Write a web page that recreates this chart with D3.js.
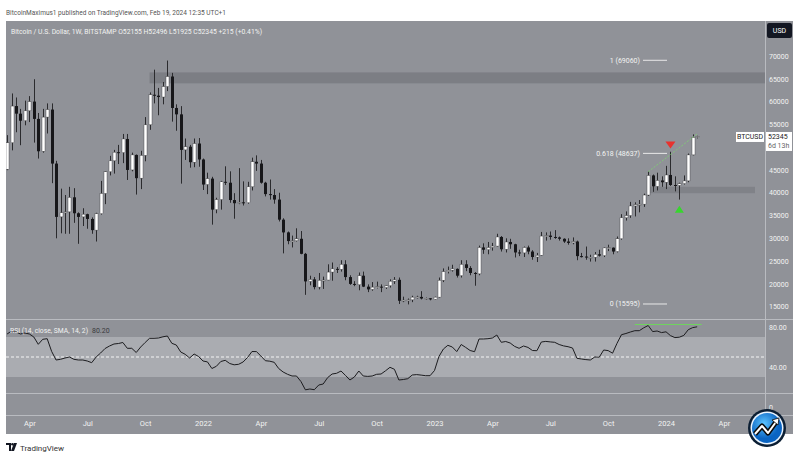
<!DOCTYPE html>
<html>
<head>
<meta charset="utf-8">
<script src="https://cdn.jsdelivr.net/npm/d3@7/dist/d3.min.js"></script>
<style>
  body { margin: 0; background: #fff; }
  svg text { font-family: "Liberation Sans Narrow", "Roboto", sans-serif; }
</style>
</head>
<body>
<svg id="chart" width="800" height="460"></svg>
<script>
// weekly candles, BTC/USD Bitstamp, first bar = week of 2021-03-01
var firstWeek = "2021-03-01";
var opens = [45160,50970,59020,57350,55800,57970,60000,56200,49100,56600,58250,46400,34700,35600,35800,39000,35500,34700,35300,34250,31800,35400,39850,44600,47000,48900,48800,51800,45000,48300,43200,48200,54900,61500,61300,61000,63300,65500,58600,57200,49400,50100,46700,50800,
  47300,41800,43100,36300,38500,42400,42200,38400,37700,37900,37800,41300,46800,46400,42200,39700,39500,38500,34100,31300,29400,29450,29900,26600,20550,21000,19300,20800,20850,22600,23300,23200,24300,21500,20000,19800,21800,19400,18800,19300,19400,19200,19600,20600,20900,16300,16450,16500,17100,17150,16800,16850,
  16600,17100,20800,22700,23000,23300,21800,24300,23500,22400,22200,28000,27500,28000,28300,30300,27600,29200,28700,26900,26800,28000,27100,25900,26300,30500,30600,30300,30200,29900,29300,29000,29300,26100,26000,25800,25850,26500,26200,27900,27950,27100,29900,34500,35000,37100,37400,37500,39500,43800,41400,42700,
  42300,43900,41700,41600,42000,42600,48300,52155];
var highs = [52640,61780,60900,58400,60200,61200,64900,57500,58400,59600,59600,47000,40900,39500,41300,41000,35700,36600,35400,34600,35600,42600,44700,48100,49400,50500,52900,52900,48800,48400,49200,56600,62000,67000,63000,64300,69000,66300,59400,59000,51900,50500,51900,52000,
  47500,44400,43500,38900,42600,45800,44700,39900,45400,42500,42400,47700,48200,47200,42400,42900,40800,40000,34400,31500,30600,32200,31600,26800,21800,21500,22400,21600,24300,24700,23700,25200,25200,21900,20600,22500,22700,19900,20400,20500,19900,19700,21000,21500,21400,17200,16800,17400,17400,18400,17000,16900,
  17200,21400,23400,23800,24200,23400,25200,25200,23900,22600,28400,28900,29200,29000,31000,30500,30000,29900,28800,27500,28200,28400,27400,26800,31400,31300,31500,31800,30400,30000,30000,30200,29500,26800,28200,26400,27000,27500,28000,28600,28000,30400,35300,35900,38000,37900,38400,39800,44700,44000,44400,43600,
  45900,49000,43600,42200,43800,48600,52800,52496];
var lows = [44950,49300,53270,50430,54800,55500,51000,47500,48800,53000,42100,30000,31100,31000,31000,33400,28800,32700,32100,31000,29300,35200,37500,43800,44200,46300,46500,42800,44700,39600,40800,46900,53800,59600,57000,59400,62300,55600,53600,42000,47200,45500,45600,45700,
  40600,39700,33000,35500,36300,41700,37800,34300,37500,37200,37600,40500,44800,42000,39200,38500,37600,33700,26700,28700,28000,29300,26500,17600,19700,18800,18800,18900,20800,20700,22400,22700,20800,19800,19500,18600,19300,18200,18500,19000,18200,18900,19200,20000,15600,16000,15500,16000,16800,16600,16500,16400,
  16500,17000,20400,22300,22700,21400,21400,22800,21900,19600,21900,26600,26500,27300,28200,27100,26900,27700,25800,26100,25900,26500,25300,24800,26200,29500,29700,29900,29500,29000,28600,28700,25200,25800,25300,24900,24900,26000,25900,27200,26500,26900,29700,33900,34500,34800,35700,36900,39300,40200,40500,41300,
  40800,41500,40300,38500,41800,42300,48200,51925];
var closes = [50970,59020,57350,55800,57970,60000,56200,49100,56600,58250,46400,34700,35600,35800,39000,35500,34700,35300,34250,31800,35400,39850,44600,47000,48900,48800,51800,45000,48300,43200,48200,54900,61500,61300,61000,63300,65500,58600,57200,49400,50100,46700,50800,47300,
  41800,43100,36300,38500,42400,42200,38400,37700,37900,37800,41300,46800,46400,42200,39700,39500,38500,34100,31300,29400,29450,29900,26600,20550,21000,19300,20800,20850,22600,23300,23200,24300,21500,20000,19800,21800,19400,18800,19300,19400,19200,19600,20600,20900,16300,16450,16500,17100,17150,16800,16850,16600,
  17100,20800,22700,23000,23300,21800,24300,23500,22400,22200,28000,27500,28000,28300,30300,27600,29200,28700,26900,26800,28000,27100,25900,26300,30500,30600,30300,30200,29900,29300,29000,29300,26100,26000,25800,25850,26500,26200,27900,27950,27100,29900,34500,35000,37100,37400,37500,39500,43800,41400,42700,42300,
  43900,41700,41600,42000,42600,48300,52150,52345];
// RSI(14) per week
var rsi = [73,76,75,73,74,73,70,62.7,67.7,68.3,55.6,47,47.7,49,50,47.7,47,47,46,44.3,50,54,58.5,61,63,63.5,64.5,58.7,58.7,54.5,60,64.5,68.7,68.7,69,70.2,71,63.7,62,55,52.7,49,53,50.5,
  46,45.1,38.5,40.7,45.5,46.7,43.5,42.2,42.7,45,49.5,55.5,55.4,51,46.3,45.8,44.7,38.5,35,32.7,31,31,25.5,17.2,18,17.3,22,23,29.4,33,33.7,36,31.6,27,30,36,31,30.6,31,32.7,33,36.2,39.7,37.7,27,27.5,28.3,32,32.4,31.9,31.3,31.3,
  36.5,50.5,58,61.7,60,55.4,62.5,59.6,56.5,55.3,68,68,68.3,69,72,64.7,65.5,64,60.6,58.7,61,59.6,56.5,56.3,65,65.6,65.1,64.7,62.5,61.1,60.3,59,48.7,48,47.4,47,50,49.8,57,56.4,53.8,63.7,72.3,73.5,75,76.3,76.3,79.2,81.5,75.4,76,74.4,
  75.2,71.4,69.4,69.8,71.6,77.3,79.4,80.2];

var timeTicks = ["2021-04-05","2021-07-05","2021-10-04","2022-01-03","2022-04-04","2022-07-04","2022-10-03","2023-01-02","2023-04-03","2023-07-03","2023-10-02","2024-01-01","2024-04-01"];
var timeLabels = ["Apr","Jul","Oct","2022","Apr","Jul","Oct","2023","Apr","Jul","Oct","2024","Apr"];
var priceTicks = [15000,20000,25000,30000,35000,40000,45000,50000,55000,60000,65000,70000];
var rsiTicks = [0,40,80];
var fibLabels = ["1 (69060)","0.618 (48637)","0 (15595)"];
var fibValues = [69060,48637,15595];
var zoneStart = ["2021-10-11","2023-12-04"];
var zoneLow = [64000,39900];
var zoneHigh = [66400,41300];

var parse = d3.utcParse("%Y-%m-%d");
var weeks = d3.utcMonday.range(parse(firstWeek), d3.utcDay.offset(parse(firstWeek), 7 * closes.length));
var bars = weeks.map(function(d, i) {
    return {date: d, o: opens[i], h: highs[i], l: lows[i], c: closes[i], r: rsi[i]};
});

// layout
var left = 6, right = 765, axisRight = 793,
    mainTop = 21, mainBottom = 318,
    rsiTop = 319, rsiBottom = 393, timeTop = 415, bottom = 434;

var bg = "#909298", band = "#aaacb1", sep = "#b9bbc0", textCol = "#f2f2f2";

var x = d3.scaleUtc()
    .domain([parse("2022-01-03"), parse("2024-01-01")])
    .range([203, 666]);
var y = d3.scaleLinear().domain([15000, 70000]).range([306.7, 56]);
var ry = d3.scaleLinear().domain([0, 80]).range([407, 327]);

var svg = d3.select("#chart");

svg.append("text").attr("x", 6).attr("y", 15)
    .attr("font-size", 7.5).attr("fill", "#555")
    .attr("textLength", 220).attr("lengthAdjust", "spacingAndGlyphs")
    .text("BitcoinMaximus1 published on TradingView.com, Feb 19, 2024 12:35 UTC+1");

// background panes
svg.append("rect").attr("x", left).attr("y", mainTop)
    .attr("width", axisRight - left).attr("height", bottom - mainTop).attr("fill", bg);

svg.append("rect").attr("x", left).attr("y", ry(70))
    .attr("width", right - left).attr("height", ry(30) - ry(70)).attr("fill", band);
svg.append("line").attr("x1", left).attr("x2", right)
    .attr("y1", ry(50)).attr("y2", ry(50))
    .attr("stroke", "#f4f4f4").attr("stroke-dasharray", "3,2");

[rsiTop, rsiBottom, timeTop].forEach(function(v) {
    svg.append("line").attr("x1", left).attr("x2", axisRight)
        .attr("y1", v + 0.5).attr("y2", v + 0.5).attr("stroke", sep);
});
svg.append("line").attr("x1", right + 0.5).attr("x2", right + 0.5)
    .attr("y1", mainTop).attr("y2", bottom).attr("stroke", sep);

// clip for main pane
svg.append("clipPath").attr("id", "mainClip").append("rect")
    .attr("x", left).attr("y", mainTop).attr("width", right - left).attr("height", mainBottom - mainTop);
svg.append("clipPath").attr("id", "rsiClip").append("rect")
    .attr("x", left).attr("y", rsiTop).attr("width", right - left).attr("height", rsiBottom - rsiTop);

var main = svg.append("g").attr("clip-path", "url(#mainClip)");

// support / resistance zones
zoneStart.forEach(function(d, i) {
    main.append("rect")
        .attr("x", x(parse(d)))
        .attr("y", y(zoneHigh[i]))
        .attr("width", (i == 0 ? right : 755) - x(parse(d)))
        .attr("height", y(zoneLow[i]) - y(zoneHigh[i]))
        .attr("fill", i == 0 ? "#7c7e84" : "#808288");
});

// candles
var candle = main.selectAll(".candle").data(bars).enter().append("g").attr("class", "candle");
candle.append("line")
    .attr("x1", function(d) { return Math.round(x(d.date)) + 0.5; })
    .attr("x2", function(d) { return Math.round(x(d.date)) + 0.5; })
    .attr("y1", function(d) { return y(d.h); })
    .attr("y2", function(d) { return y(d.l); })
    .attr("stroke", "#2b2b2e");
candle.append("rect")
    .attr("x", function(d) { return Math.round(x(d.date)) - 1; })
    .attr("y", function(d) { return y(Math.max(d.o, d.c)); })
    .attr("width", 3)
    .attr("height", function(d) { return Math.max(1, Math.abs(y(d.o) - y(d.c))); })
    .attr("fill", function(d) { return d.c >= d.o ? "#ffffff" : "#17171a"; })
    .attr("stroke", function(d) { return d.c >= d.o ? "#3a3a3d" : "none"; })
    .attr("stroke-width", 0.4);

// fib labels
fibValues.forEach(function(v, i) {
    main.append("text").attr("x", 640).attr("y", y(v) + 2.5)
        .attr("text-anchor", "end").attr("font-size", 7).attr("fill", textCol)
        .text(fibLabels[i]);
    main.append("line").attr("x1", 643).attr("x2", 667)
        .attr("y1", y(v)).attr("y2", y(v)).attr("stroke", "#e8e8e8");
});

// divergence line + markers
main.append("line")
    .attr("x1", x(parse("2023-12-04"))).attr("y1", y(44600))
    .attr("x2", x(parse("2024-02-19"))).attr("y2", y(52900))
    .attr("stroke", "#7ed66f").attr("stroke-dasharray", "2,1.5").attr("stroke-width", 0.8);

var rx = x(parse("2024-01-08")), rY = y(50500);
main.append("path").attr("d", "M" + (rx - 5) + "," + (rY - 3.5) + "L" + (rx + 5) + "," + (rY - 3.5) + "L" + rx + "," + (rY + 3.5) + "Z")
    .attr("fill", "#e8322e");
var gx = x(parse("2024-01-22")), gY = y(36400);
main.append("path").attr("d", "M" + (gx - 4.5) + "," + (gY + 3.5) + "L" + (gx + 4.5) + "," + (gY + 3.5) + "L" + gx + "," + (gY - 3.5) + "Z")
    .attr("fill", "#37d62e");

// legend
svg.append("text").attr("x", 11).attr("y", 34)
    .attr("font-size", 7.5).attr("fill", textCol)
    .attr("textLength", 251).attr("lengthAdjust", "spacingAndGlyphs")
    .text("Bitcoin / U.S. Dollar, 1W, BITSTAMP  O52155  H52496  L51925  C52345  +215 (+0.41%)");

// price axis
var yAxis = svg.append("g").attr("transform", "translate(" + (right + 2) + ",0)")
    .call(d3.axisRight(y).tickValues(priceTicks).tickSize(0).tickPadding(2).tickFormat(d3.format("d")));
yAxis.select(".domain").remove();
yAxis.selectAll("text").attr("font-size", 7).attr("fill", textCol)
    .style("font-family", '"Liberation Sans Narrow", Roboto, sans-serif');

// USD button
svg.append("rect").attr("x", 767).attr("y", 23).attr("width", 25).attr("height", 15).attr("rx", 2).attr("fill", "#131722");
svg.append("text").attr("x", 779.5).attr("y", 33).attr("text-anchor", "middle")
    .attr("font-size", 7).attr("fill", "#fff").text("USD");

// last price label
var last = bars[bars.length - 1], ly = y(last.c);
svg.append("rect").attr("x", 736).attr("y", ly - 4.5).attr("width", 28).attr("height", 10).attr("fill", "#fff");
svg.append("text").attr("x", 750).attr("y", ly + 3).attr("text-anchor", "middle")
    .attr("font-size", 7).attr("fill", "#222").text("BTCUSD");
svg.append("rect").attr("x", 766).attr("y", ly - 4.5).attr("width", 26).attr("height", 19).attr("fill", "#fff");
svg.append("text").attr("x", 768).attr("y", ly + 3).attr("font-size", 7).attr("fill", "#222").text(d3.format("d")(last.c));
svg.append("text").attr("x", 768).attr("y", ly + 12).attr("font-size", 7).attr("fill", "#666").text("6d 13h");

// RSI pane
var rsiG = svg.append("g").attr("clip-path", "url(#rsiClip)");
rsiG.append("line")
    .attr("x1", x(parse("2023-11-13"))).attr("x2", x(parse("2024-02-26")))
    .attr("y1", ry(82.5)).attr("y2", ry(82.5))
    .attr("stroke", "#6fd35e").attr("stroke-width", 1);
rsiG.append("path").datum(bars)
    .attr("fill", "none").attr("stroke", "#1c1c1f").attr("stroke-width", 1)
    .attr("d", d3.line().x(function(d) { return x(d.date); }).y(function(d) { return ry(d.r); }));

svg.append("text").attr("x", 10).attr("y", 333)
    .attr("font-size", 7).attr("fill", textCol)
    .attr("textLength", 78).attr("lengthAdjust", "spacingAndGlyphs")
    .text("RSI (14, close, SMA, 14, 2)");
svg.append("text").attr("x", 92).attr("y", 333)
    .attr("font-size", 7).attr("fill", "#3a3a3d").text(d3.format(".2f")(last.r));

var rAxis = svg.append("g").attr("transform", "translate(" + (right + 2) + ",0)")
    .call(d3.axisRight(ry).tickValues(rsiTicks).tickSize(0).tickPadding(2)
        .tickFormat(function(d) { return d == 0 ? "0" : d3.format(".2f")(d); }));
rAxis.select(".domain").remove();
rAxis.selectAll("text").attr("font-size", 7).attr("fill", textCol)
    .style("font-family", '"Liberation Sans Narrow", Roboto, sans-serif');

// time axis
var xAxis = svg.append("g").attr("transform", "translate(0," + (timeTop + 6) + ")")
    .call(d3.axisBottom(x).tickValues(timeTicks.map(parse)).tickSize(0).tickPadding(0)
        .tickFormat(function(d, i) { return timeLabels[i]; }));
xAxis.select(".domain").remove();
xAxis.selectAll("text").attr("font-size", 7.5).attr("fill", textCol)
    .style("font-family", '"Liberation Sans Narrow", Roboto, sans-serif');

// TradingView footer
var tv = svg.append("g").attr("transform", "translate(6,443)").attr("fill", "#131722");
tv.append("path").attr("d", "M0,0H5V8H3V2H0Z");
tv.append("circle").attr("cx", 6.5).attr("cy", 1.3).attr("r", 1.3);
tv.append("path").attr("d", "M8,0H11L8,8H5Z");
svg.append("text").attr("x", 20).attr("y", 450.5).attr("font-size", 8).attr("fill", "#333").text("TradingView");

// round badge, bottom right
var badge = svg.append("g").attr("transform", "translate(767,428)");
var grad = svg.append("defs").append("radialGradient").attr("id", "blueGrad").attr("cx", "40%").attr("cy", "35%");
grad.append("stop").attr("offset", "0%").attr("stop-color", "#5cc4ff");
grad.append("stop").attr("offset", "100%").attr("stop-color", "#0a64c2");
badge.append("circle").attr("r", 19).attr("fill", "#0b1e33");
badge.append("circle").attr("r", 16.5).attr("fill", "#e9f4ff");
badge.append("circle").attr("r", 15).attr("fill", "url(#blueGrad)");
badge.append("path").attr("d", "M-12,6L-5,-2L1,5L9,-6")
    .attr("fill", "none").attr("stroke", "#0b0b0b").attr("stroke-width", 5).attr("stroke-linejoin", "round");
badge.append("path").attr("d", "M-12,6L-5,-2L1,5L9,-6")
    .attr("fill", "none").attr("stroke", "#fff").attr("stroke-width", 2).attr("stroke-linejoin", "round");
badge.append("path").attr("d", "M5,-8L12,-10L11,-3Z").attr("fill", "#fff").attr("stroke", "#0b0b0b").attr("stroke-width", 0.8);
</script>
</body>
</html>
